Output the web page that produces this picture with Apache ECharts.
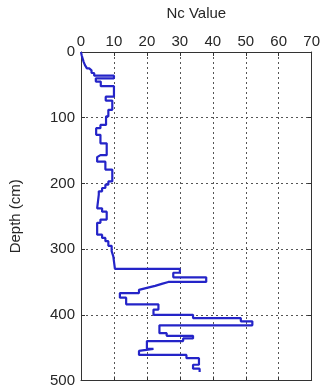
<!DOCTYPE html>
<html>
<head>
<meta charset="utf-8">
<script src="https://cdn.jsdelivr.net/npm/echarts@6/dist/echarts.min.js"></script>
<style>
html,body{margin:0;padding:0;background:#fff;}
#chart{width:323px;height:388px;}
</style>
</head>
<body>
<div id="chart"></div>
<script>
// Layer boundaries (depth, cm) and Nc value of each layer
const depthBounds = [0,5,10,15,20,25,28,32,36,40,45,52,68,74,88,98,111,116,126,139,157,160,167,179,197,202,207,212,217,238,243,255,260,278,283,288,295,303,311,330,336,343,350,353,356,359,362,367,374,384,392,400,405,410,416,428,432,436,440,452,455,461,466,476,482,487];
const ncValues = [0.2,0.5,0.8,1.2,1.8,2.5,3.2,4,10,4.5,6,10,7.5,9.5,8.3,7.6,5.9,4.6,5.9,7.8,5.9,4.9,7.4,9.5,8.3,7.4,6.4,5.4,4.9,6.4,7.8,5.9,4.9,6.4,7.4,8.3,9.3,9.8,10.3,30,28,38,26.5,24.5,22.5,20,17.6,11.8,13.7,23.5,22,34,48.5,52,23.8,26,34,31,20,22,17.6,32,35.8,34,36];
const xTicks = [0,10,20,30,40,50,60,70];
const yTicks = [0,100,200,300,400,500];

const pts = [];
for (let i = 0; i < ncValues.length; i++) {
  pts.push([ncValues[i], depthBounds[i]]);
  pts.push([ncValues[i], depthBounds[i+1]]);
}
pts.unshift([0, 0]);

const font = 'Liberation Sans, Arial, sans-serif';
const txt = '#262626';
const gridLine = {show:true, lineStyle:{color:'#555', type:[2,3], width:1}};
const chart = echarts.init(document.getElementById('chart'));
chart.setOption({
  animation:false,
  backgroundColor:'#fff',
  grid:{left:75, top:52, width:238, height:329},
  xAxis:[{
    type:'value', position:'top', min:xTicks[0], max:xTicks[xTicks.length-1], interval:10,
    name:'Nc Value', nameLocation:'middle', nameGap:31,
    nameTextStyle:{fontFamily:font, fontSize:15, color:txt},
    axisLabel:{fontFamily:font, fontSize:15, color:txt, margin:3},
    axisLine:{show:true, onZero:false, lineStyle:{color:'#333', width:1}},
    axisTick:{show:true, inside:true, length:4, lineStyle:{color:'#333'}},
    splitLine:gridLine
  },{
    type:'value', position:'bottom', min:0, max:70, interval:10,
    axisLabel:{show:false},
    axisLine:{show:true, onZero:false, lineStyle:{color:'#333', width:1}},
    axisTick:{show:true, inside:true, length:4, lineStyle:{color:'#333'}},
    splitLine:{show:false}
  }],
  yAxis:[{
    type:'value', inverse:true, min:yTicks[0], max:yTicks[yTicks.length-1], interval:100,
    name:'Depth (cm)', nameLocation:'middle', nameGap:58, nameRotate:90,
    nameTextStyle:{fontFamily:font, fontSize:15, color:txt},
    axisLabel:{fontFamily:font, fontSize:15, color:txt, margin:6},
    axisLine:{show:true, onZero:false, lineStyle:{color:'#333', width:1}},
    axisTick:{show:true, inside:true, length:4, lineStyle:{color:'#333'}},
    splitLine:gridLine
  },{
    type:'value', inverse:true, position:'right', min:0, max:500, interval:100,
    axisLabel:{show:false},
    axisLine:{show:true, onZero:false, lineStyle:{color:'#333', width:1}},
    axisTick:{show:true, inside:true, length:4, lineStyle:{color:'#333'}},
    splitLine:{show:false}
  }],
  series:[{
    type:'line', xAxisIndex:0, yAxisIndex:0,
    data:pts, showSymbol:false, symbol:'none',
    lineStyle:{color:'#2424c8', width:2.2}
  }]
});
</script>
</body>
</html>
